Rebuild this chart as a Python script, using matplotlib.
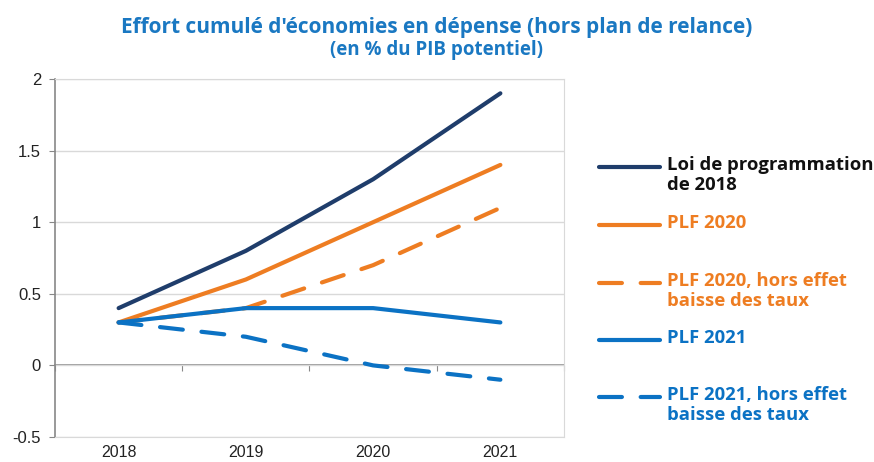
import matplotlib.pyplot as plt
from matplotlib.lines import Line2D

plt.rcParams['font.family'] = ['Open Sans', 'DejaVu Sans']

years = ['2018', '2019', '2020', '2021']
loi_2018 = [0.4, 0.8, 1.3, 1.9]
plf_2020 = [0.3, 0.6, 1.0, 1.4]
plf_2020_hors = [0.3, 0.4, 0.7, 1.1]
plf_2021 = [0.3, 0.4, 0.4, 0.3]
plf_2021_hors = [0.3, 0.2, 0.0, -0.1]
y_ticks = [-0.5, 0, 0.5, 1, 1.5, 2]
y_labels = ['-0.5', '0', '0.5', '1', '1.5', '2']

navy = '#1f3d6b'
orange = '#ee7d22'
blue = '#0b72c4'
title_blue = '#1a78c2'

series = [
    ("Loi de programmation\nde 2018", loi_2018, navy, '-', '#111111'),
    ("PLF 2020", plf_2020, orange, '-', orange),
    ("PLF 2020, hors effet\nbaisse des taux", plf_2020_hors, orange, '--', orange),
    ("PLF 2021", plf_2021, blue, '-', blue),
    ("PLF 2021, hors effet\nbaisse des taux", plf_2021_hors, blue, '--', blue),
]

fig = plt.figure(figsize=(8.74, 4.62), dpi=100)
ax = fig.add_axes([55/874, 25/462, 509/874, 358/462])

x = list(range(len(years)))
for label, vals, col, ls, tcol in series:
    if ls == '--':
        ax.plot(x, vals, color=col, lw=3, linestyle=(0, (5.5, 4.5)),
                dash_capstyle='round', solid_capstyle='round')
    else:
        ax.plot(x, vals, color=col, lw=3, solid_capstyle='round')

ax.set_xlim(-0.5, 3.5)
ax.set_ylim(-0.5, 2)
ax.set_yticks(y_ticks)
ax.set_yticklabels(y_labels, family='Liberation Sans')
ax.set_xticks(x)
ax.set_xticklabels(years, family='Liberation Sans')
ax.tick_params(axis='x', length=0, pad=6, labelsize=11.5, labelcolor='#222222')
ax.tick_params(axis='y', length=4, color='#888888', labelsize=12, labelcolor='#222222', pad=6)
ax.grid(axis='y', color='#d9d9d9', lw=1)
ax.set_axisbelow(True)
for s in ['top', 'right', 'bottom']:
    ax.spines[s].set_color('#d9d9d9')
ax.spines['left'].set_color('#888888')
ax.spines['left'].set_linewidth(1.2)

# category axis crossing at zero
sec = ax.secondary_xaxis(0.2)
sec.set_xticks([-0.5, 0.5, 1.5, 2.5, 3.5])
sec.set_xticklabels([])
sec.tick_params(length=4, color='#888888')
sec.spines['bottom'].set_color('#888888')
sec.spines['bottom'].set_linewidth(1.2)

fig.text(0.5, 0.940, "Effort cumulé d'économies en dépense (hors plan de relance)",
         ha='center', va='center', fontsize=15, fontweight='bold', color=title_blue)
fig.text(0.5, 0.892, "(en % du PIB potentiel)",
         ha='center', va='center', fontsize=13.5, fontweight='bold', color=title_blue)

# legend
leg_y = [167, 225, 283, 340, 397]
for (label, vals, col, ls, tcol), yy in zip(series, leg_y):
    yf = 1 - yy / 462
    if ls == '--':
        fig.add_artist(Line2D([599/874, 660/874], [yf, yf], color=col, lw=3,
                              linestyle=(0, (5.5, 4.5)), dash_capstyle='round'))
    else:
        fig.add_artist(Line2D([599/874, 660/874], [yf, yf], color=col, lw=3,
                              solid_capstyle='round'))
    fig.text(667/874, yf + 11/462, label, ha='left', va='top', fontsize=13.3,
             fontweight='bold', color=tcol, linespacing=1.12)

fig.savefig('out.png', dpi=100)
